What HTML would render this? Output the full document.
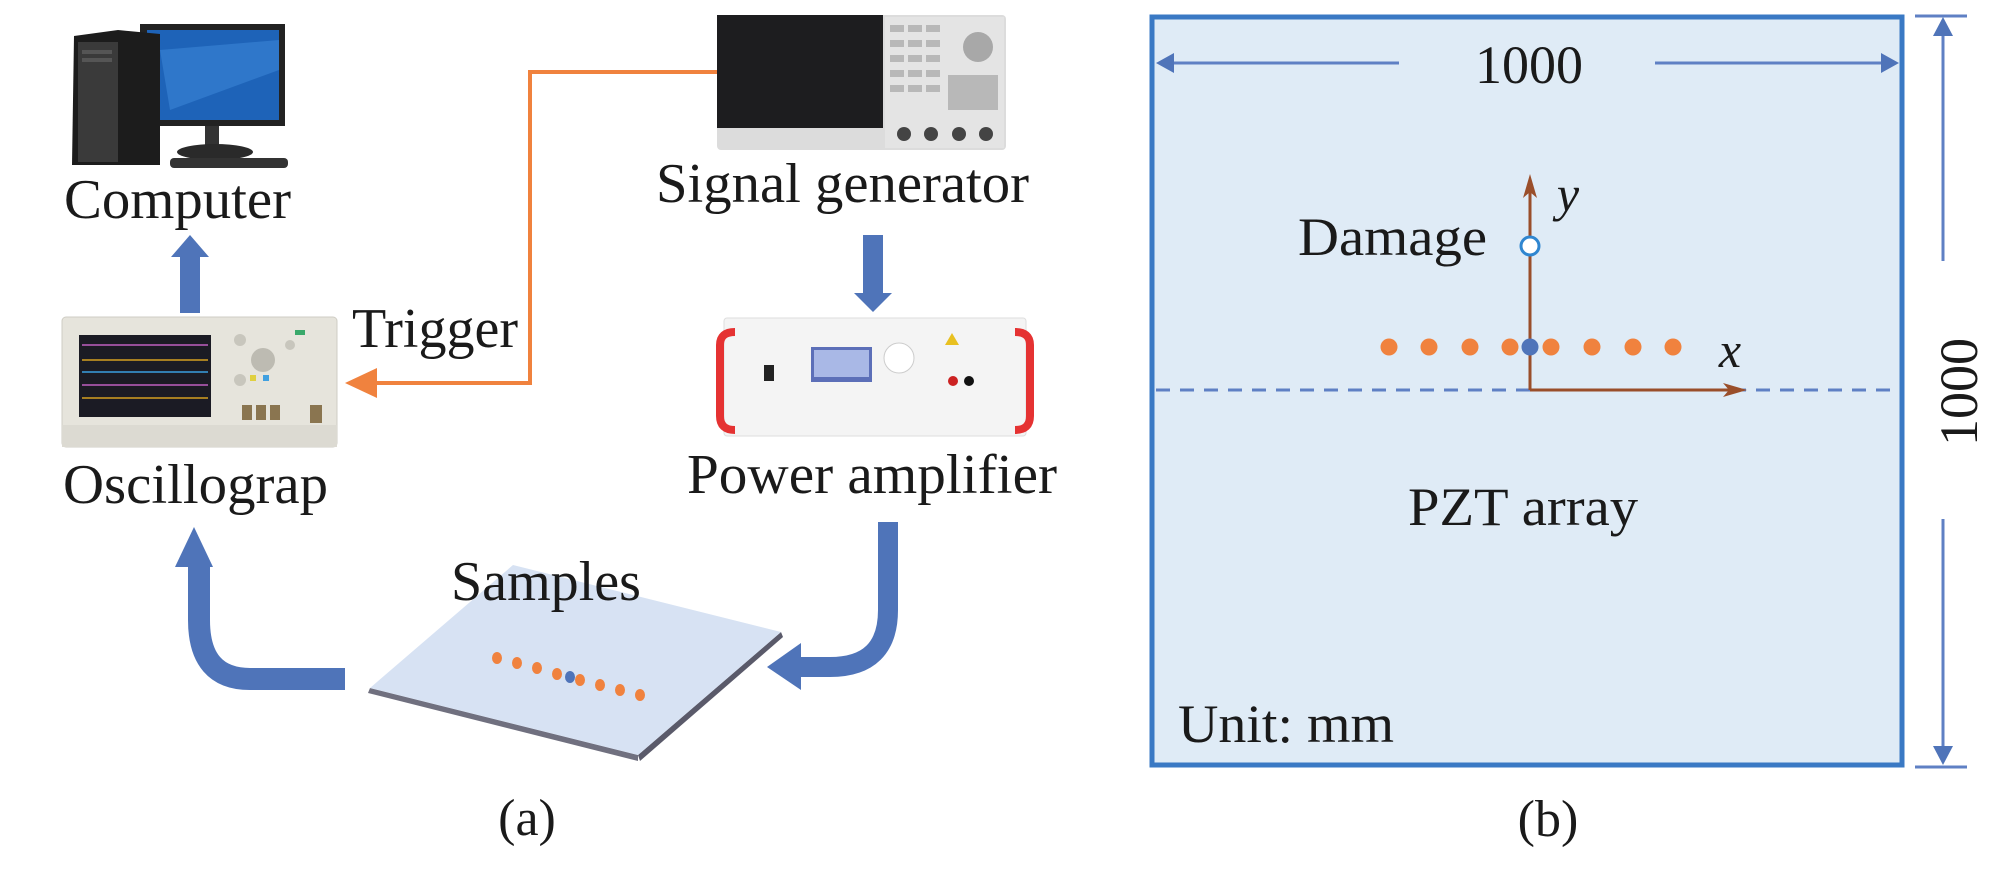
<!DOCTYPE html>
<html><head><meta charset="utf-8"><style>
html,body{margin:0;padding:0;background:#fff;}
svg{display:block;}
text{font-family:"Liberation Serif",serif;fill:#1a1a1a;}
</style></head><body>
<svg width="2008" height="871" viewBox="0 0 2008 871" xmlns="http://www.w3.org/2000/svg">
<!-- ===== Panel (a) ===== -->
<!-- Computer -->
<rect x="140" y="24" width="145" height="102" fill="#222" />
<rect x="147" y="30" width="132" height="90" fill="#1e63b8"/>
<path d="M160 50 L279 40 L279 70 L170 110 Z" fill="#3b86d6" opacity="0.6"/>
<rect x="205" y="126" width="14" height="22" fill="#333"/>
<ellipse cx="215" cy="152" rx="38" ry="8" fill="#2a2a2a"/>
<rect x="170" y="158" width="118" height="10" rx="4" fill="#333"/>
<path d="M74 36 L118 30 L160 34 L160 165 L72 165 Z" fill="#1c1c1c"/>
<rect x="78" y="42" width="40" height="120" fill="#3a3a3a"/>
<rect x="82" y="50" width="30" height="4" fill="#555"/>
<rect x="82" y="58" width="30" height="4" fill="#555"/>
<text x="64" y="218" font-size="56" textLength="227" lengthAdjust="spacingAndGlyphs">Computer</text>
<!-- up arrow -->
<rect x="180" y="255" width="20" height="58" fill="#4f74b9"/>
<polygon points="171,257 209,257 190,235" fill="#4f74b9"/>
<!-- Oscilloscope -->
<rect x="62" y="317" width="275" height="130" rx="4" fill="#e6e4dc" stroke="#cfcdc4"/>
<rect x="79" y="335" width="132" height="82" fill="#1b1b24"/>
<g stroke-width="1.5" fill="none">
<path d="M82 345 H208" stroke="#c060c0"/><path d="M82 360 H208" stroke="#d4a020"/>
<path d="M82 372 H208" stroke="#3aa0e0"/><path d="M82 385 H208" stroke="#c060c0"/>
<path d="M82 398 H208" stroke="#d4a020"/>
</g>
<circle cx="263" cy="360" r="12" fill="#bdbbb2"/><circle cx="240" cy="340" r="6" fill="#c8c6bd"/>
<circle cx="240" cy="380" r="6" fill="#c8c6bd"/><circle cx="290" cy="345" r="5" fill="#c8c6bd"/>
<rect x="295" y="330" width="10" height="5" fill="#39a86a"/>
<rect x="242" y="405" width="10" height="15" fill="#8a7550"/><rect x="256" y="405" width="10" height="15" fill="#8a7550"/>
<rect x="270" y="405" width="10" height="15" fill="#8a7550"/><rect x="310" y="405" width="12" height="18" fill="#8a7550"/>
<rect x="250" y="375" width="6" height="6" fill="#e0d040"/><rect x="263" y="375" width="6" height="6" fill="#40a0e0"/>
<rect x="62" y="425" width="275" height="22" fill="#dcdad2"/>
<text x="63" y="503" font-size="56" textLength="265" lengthAdjust="spacingAndGlyphs">Oscillograp</text>
<!-- Trigger -->
<text x="352" y="347" font-size="56" textLength="166" lengthAdjust="spacingAndGlyphs">Trigger</text>
<polyline points="717,72 530,72 530,383 376,383" fill="none" stroke="#f0823e" stroke-width="4"/>
<polygon points="345,383 377,368 377,398" fill="#f0823e"/>
<!-- Signal generator -->
<rect x="717" y="15" width="289" height="135" rx="4" fill="#dcdcdc"/>
<rect x="717" y="15" width="166" height="113" fill="#1d1d1f"/>
<rect x="885" y="17" width="119" height="131" fill="#e4e4e4"/>
<g fill="#b8b8b8">
<rect x="890" y="25" width="14" height="7"/><rect x="908" y="25" width="14" height="7"/><rect x="926" y="25" width="14" height="7"/>
<rect x="890" y="40" width="14" height="7"/><rect x="908" y="40" width="14" height="7"/><rect x="926" y="40" width="14" height="7"/>
<rect x="890" y="55" width="14" height="7"/><rect x="908" y="55" width="14" height="7"/><rect x="926" y="55" width="14" height="7"/>
<rect x="890" y="70" width="14" height="7"/><rect x="908" y="70" width="14" height="7"/><rect x="926" y="70" width="14" height="7"/>
<rect x="890" y="85" width="14" height="7"/><rect x="908" y="85" width="14" height="7"/><rect x="926" y="85" width="14" height="7"/>
<rect x="948" y="75" width="50" height="35"/>
</g>
<circle cx="978" cy="47" r="15" fill="#a8a8a8"/>
<circle cx="904" cy="134" r="7" fill="#444"/><circle cx="931" cy="134" r="7" fill="#444"/>
<circle cx="959" cy="134" r="7" fill="#444"/><circle cx="986" cy="134" r="7" fill="#444"/>
<text x="656" y="202" font-size="56" textLength="373" lengthAdjust="spacingAndGlyphs">Signal generator</text>
<!-- down arrow -->
<rect x="863" y="235" width="20" height="58" fill="#4f74b9"/>
<polygon points="854,293 892,293 873,312" fill="#4f74b9"/>
<!-- Power amplifier -->
<rect x="724" y="318" width="302" height="118" rx="3" fill="#f4f4f4" stroke="#dedede"/>
<path d="M735 332 Q720 332 720 345 V416 Q720 430 735 430" fill="none" stroke="#e53232" stroke-width="8"/>
<path d="M1015 332 Q1030 332 1030 345 V416 Q1030 430 1015 430" fill="none" stroke="#e53232" stroke-width="8"/>
<rect x="811" y="347" width="61" height="35" fill="#5c6fb8"/>
<rect x="814" y="350" width="55" height="27" fill="#a9b8e6"/>
<circle cx="899" cy="358" r="15" fill="#fff" stroke="#ccc"/>
<rect x="764" y="365" width="10" height="16" fill="#222"/>
<circle cx="953" cy="381" r="5" fill="#c22"/><circle cx="969" cy="381" r="5" fill="#111"/>
<polygon points="945,345 952,333 959,345" fill="#e8c020"/>
<text x="687" y="493" font-size="56" textLength="370" lengthAdjust="spacingAndGlyphs">Power amplifier</text>
<!-- curved arrows -->
<path d="M345 679 H250 Q199 679 199 620 V567" fill="none" stroke="#4f74b9" stroke-width="22"/>
<polygon points="175,567 213,567 194,527" fill="#4f74b9"/>
<path d="M888 522 V610 Q888 667 830 667 H800" fill="none" stroke="#4f74b9" stroke-width="20"/>
<polygon points="767,667 801,643 801,690" fill="#4f74b9"/>
<!-- Plate -->
<polygon points="370,688 638,755 638,761 368,693" fill="#70707f"/>
<polygon points="638,755 781,632 783,637 640,761" fill="#5a5a6a"/>
<polygon points="370,688 513,565 781,632 638,755" fill="#d7e2f3"/>
<text x="451" y="600" font-size="56" textLength="190" lengthAdjust="spacingAndGlyphs">Samples</text>
<g fill="#f0823e">
<ellipse cx="497" cy="658" rx="5" ry="6"/><ellipse cx="517" cy="663" rx="5" ry="6"/>
<ellipse cx="537" cy="668" rx="5" ry="6"/><ellipse cx="557" cy="674" rx="5" ry="6"/>
<ellipse cx="580" cy="680" rx="5" ry="6"/><ellipse cx="600" cy="685" rx="5" ry="6"/>
<ellipse cx="620" cy="690" rx="5" ry="6"/><ellipse cx="640" cy="695" rx="5" ry="6"/>
</g>
<ellipse cx="570" cy="677" rx="5" ry="6" fill="#4f74b9"/>
<text x="527" y="835" font-size="52" text-anchor="middle">(a)</text>

<!-- ===== Panel (b) ===== -->
<rect x="1152" y="17" width="750" height="748" fill="#dfebf6" stroke="#3a79c4" stroke-width="5"/>
<!-- top dim -->
<line x1="1170" y1="63" x2="1399" y2="63" stroke="#5f80c4" stroke-width="3"/>
<polygon points="1156,63 1174,53 1174,73" fill="#4f74b9"/>
<line x1="1655" y1="63" x2="1885" y2="63" stroke="#5f80c4" stroke-width="3"/>
<polygon points="1899,63 1881,53 1881,73" fill="#4f74b9"/>
<text x="1529" y="83" font-size="54" text-anchor="middle">1000</text>
<!-- right dim -->
<line x1="1915" y1="16" x2="1967" y2="16" stroke="#5f80c4" stroke-width="3"/>
<line x1="1915" y1="767" x2="1967" y2="767" stroke="#5f80c4" stroke-width="3"/>
<line x1="1943" y1="30" x2="1943" y2="261" stroke="#5f80c4" stroke-width="3"/>
<polygon points="1943,17 1933,36 1953,36" fill="#4f74b9"/>
<line x1="1943" y1="519" x2="1943" y2="752" stroke="#5f80c4" stroke-width="3"/>
<polygon points="1943,765 1933,746 1953,746" fill="#4f74b9"/>
<text transform="translate(1977,392) rotate(-90)" font-size="54" text-anchor="middle">1000</text>
<!-- dashed line -->
<line x1="1156" y1="390" x2="1899" y2="390" stroke="#5f80c4" stroke-width="3" stroke-dasharray="14,10"/>
<!-- axes -->
<line x1="1530" y1="390" x2="1530" y2="182" stroke="#9a4e2a" stroke-width="3"/>
<polygon points="1530,174 1523,198 1530,192 1537,198" fill="#9a4e2a"/>
<line x1="1530" y1="390" x2="1735" y2="390" stroke="#9a4e2a" stroke-width="3"/>
<polygon points="1747,390 1723,383 1729,390 1723,397" fill="#9a4e2a"/>
<text x="1568" y="211" font-size="50" font-style="italic" text-anchor="middle">y</text>
<text x="1730" y="367" font-size="50" font-style="italic" text-anchor="middle">x</text>
<circle cx="1530" cy="246" r="9" fill="#fff" stroke="#2f86d0" stroke-width="3"/>
<text x="1298" y="255" font-size="54" textLength="189" lengthAdjust="spacingAndGlyphs">Damage</text>
<g fill="#f0823e">
<circle cx="1389" cy="347" r="8.5"/><circle cx="1429" cy="347" r="8.5"/><circle cx="1470" cy="347" r="8.5"/>
<circle cx="1510" cy="347" r="8.5"/><circle cx="1551" cy="347" r="8.5"/><circle cx="1592" cy="347" r="8.5"/>
<circle cx="1633" cy="347" r="8.5"/><circle cx="1673" cy="347" r="8.5"/>
</g>
<circle cx="1530" cy="347" r="8.5" fill="#4f74b9"/>
<text x="1408" y="525" font-size="54" textLength="230" lengthAdjust="spacingAndGlyphs">PZT array</text>
<text x="1178" y="742" font-size="54" textLength="216" lengthAdjust="spacingAndGlyphs">Unit: mm</text>
<text x="1548" y="836" font-size="52" text-anchor="middle">(b)</text>
</svg>
</body></html>
